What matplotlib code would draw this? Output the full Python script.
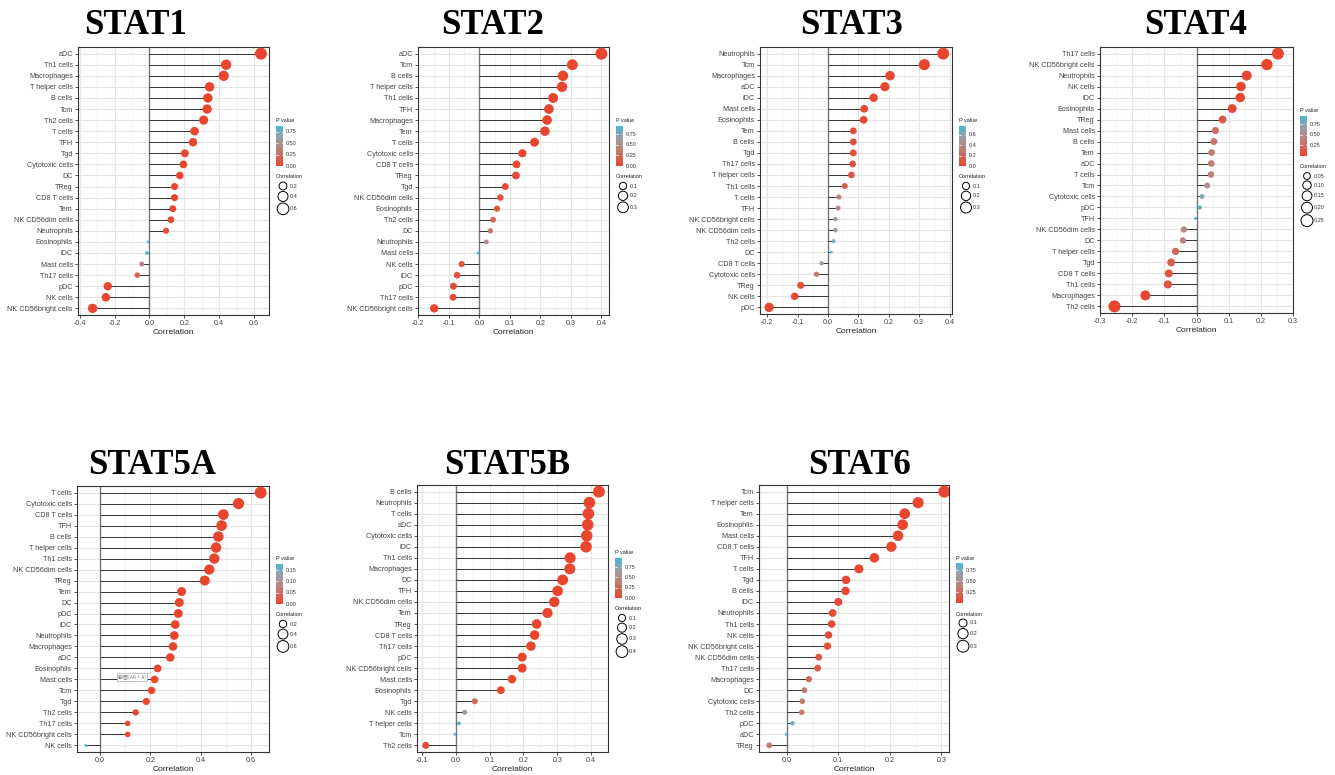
import numpy as np
import matplotlib
matplotlib.use("Agg")
import matplotlib.pyplot as plt
from matplotlib.colors import LinearSegmentedColormap
from matplotlib.ticker import MultipleLocator

W, H = 1335, 775

# ---------------- data (top -> bottom) ----------------
stat1_cells = ["aDC", "Th1 cells", "Macrophages", "T helper cells", "B cells", "Tcm", "Th2 cells",
               "T cells", "TFH", "Tgd", "Cytotoxic cells", "DC", "TReg", "CD8 T cells", "Tem",
               "NK CD56dim cells", "Neutrophils", "Eosinophils", "iDC", "Mast cells", "Th17 cells",
               "pDC", "NK cells", "NK CD56bright cells"]
stat1_r = [0.640, 0.440, 0.426, 0.345, 0.335, 0.331, 0.311, 0.259, 0.250, 0.203, 0.195, 0.174,
           0.144, 0.144, 0.134, 0.123, 0.095, -0.008, -0.015, -0.044, -0.070, -0.239, -0.250, -0.326]
stat1_p = [0, 0, 0, 0, 0, 0, 0, 0, 0, 0, 0, 0.002, 0.008, 0.008, 0.014, 0.025, 0.085,
           0.88, 0.78, 0.42, 0.20, 0, 0, 0]

stat2_cells = ["aDC", "Tcm", "B cells", "T helper cells", "Th1 cells", "TFH", "Macrophages", "Tem",
               "T cells", "Cytotoxic cells", "CD8 T cells", "TReg", "Tgd", "NK CD56dim cells",
               "Eosinophils", "Th2 cells", "DC", "Neutrophils", "Mast cells", "NK cells", "iDC",
               "pDC", "Th17 cells", "NK CD56bright cells"]
stat2_r = [0.400, 0.305, 0.274, 0.271, 0.242, 0.228, 0.222, 0.215, 0.181, 0.141, 0.122, 0.120,
           0.085, 0.069, 0.058, 0.045, 0.036, 0.023, -0.004, -0.058, -0.073, -0.085, -0.086, -0.148]
stat2_p = [0, 0, 0, 0, 0, 0, 0, 0, 0.001, 0.006, 0.015, 0.016, 0.04, 0.07, 0.12, 0.2, 0.32,
           0.5, 0.94, 0.12, 0.07, 0.05, 0.05, 0.002]

stat3_cells = ["Neutrophils", "Tcm", "Macrophages", "aDC", "iDC", "Mast cells", "Eosinophils", "Tem",
               "B cells", "Tgd", "Th17 cells", "T helper cells", "Th1 cells", "T cells", "TFH",
               "NK CD56bright cells", "NK CD56dim cells", "Th2 cells", "DC", "CD8 T cells",
               "Cytotoxic cells", "TReg", "NK cells", "pDC"]
stat3_r = [0.379, 0.317, 0.204, 0.187, 0.150, 0.119, 0.117, 0.083, 0.083, 0.083, 0.081, 0.077,
           0.055, 0.036, 0.033, 0.024, 0.024, 0.018, 0.011, -0.021, -0.038, -0.090, -0.110, -0.194]
stat3_p = [0, 0, 0, 0, 0.004, 0.02, 0.022, 0.06, 0.06, 0.06, 0.07, 0.08, 0.15, 0.35, 0.38,
           0.5, 0.5, 0.62, 0.77, 0.55, 0.3, 0.05, 0.025, 0]

stat4_cells = ["Th17 cells", "NK CD56bright cells", "Neutrophils", "NK cells", "iDC", "Eosinophils",
               "TReg", "Mast cells", "B cells", "Tem", "aDC", "T cells", "Tcm", "Cytotoxic cells",
               "pDC", "TFH", "NK CD56dim cells", "DC", "T helper cells", "Tgd", "CD8 T cells",
               "Th1 cells", "Macrophages", "Th2 cells"]
stat4_r = [0.253, 0.219, 0.156, 0.138, 0.136, 0.111, 0.081, 0.059, 0.054, 0.047, 0.046, 0.045,
           0.033, 0.017, 0.010, -0.003, -0.039, -0.042, -0.065, -0.079, -0.086, -0.089, -0.159, -0.255]
stat4_p = [0.00001, 0.0001, 0.004, 0.01, 0.01, 0.04, 0.14, 0.28, 0.32, 0.37, 0.38, 0.39, 0.5,
           0.72, 0.83, 0.94, 0.46, 0.44, 0.24, 0.16, 0.12, 0.11, 0.003, 0.00001]

stat5a_cells = ["T cells", "Cytotoxic cells", "CD8 T cells", "TFH", "B cells", "T helper cells",
                "Th1 cells", "NK CD56dim cells", "TReg", "Tem", "DC", "pDC", "iDC", "Neutrophils",
                "Macrophages", "aDC", "Eosinophils", "Mast cells", "Tcm", "Tgd", "Th2 cells",
                "Th17 cells", "NK CD56bright cells", "NK cells"]
stat5a_r = [0.638, 0.550, 0.490, 0.483, 0.470, 0.461, 0.454, 0.434, 0.416, 0.324, 0.315, 0.311,
            0.299, 0.295, 0.290, 0.279, 0.229, 0.217, 0.205, 0.184, 0.142, 0.110, 0.110, -0.056]
stat5a_p = [0, 0, 0, 0, 0, 0, 0, 0, 0, 0, 0, 0, 0, 0, 0, 0, 0, 0, 0, 0.0005, 0.002, 0.006,
            0.006, 0.177]

stat5b_cells = ["B cells", "Neutrophils", "T cells", "aDC", "Cytotoxic cells", "iDC", "Th1 cells",
                "Macrophages", "DC", "TFH", "NK CD56dim cells", "Tem", "TReg", "CD8 T cells",
                "Th17 cells", "pDC", "NK CD56bright cells", "Mast cells", "Eosinophils", "Tgd",
                "NK cells", "T helper cells", "Tcm", "Th2 cells"]
stat5b_r = [0.423, 0.395, 0.392, 0.390, 0.387, 0.385, 0.338, 0.337, 0.316, 0.301, 0.291, 0.271,
            0.239, 0.233, 0.222, 0.196, 0.196, 0.166, 0.133, 0.056, 0.026, 0.009, -0.003, -0.089]
stat5b_p = [0, 0, 0, 0, 0, 0, 0, 0, 0, 0, 0, 0, 0, 0, 0, 0, 0, 0.003, 0.015, 0.27, 0.56,
            0.85, 0.97, 0.04]

stat6_cells = ["Tcm", "T helper cells", "Tem", "Eosinophils", "Mast cells", "CD8 T cells", "TFH",
               "T cells", "Tgd", "B cells", "iDC", "Neutrophils", "Th1 cells", "NK cells",
               "NK CD56bright cells", "NK CD56dim cells", "Th17 cells", "Macrophages", "DC",
               "Cytotoxic cells", "Th2 cells", "pDC", "aDC", "TReg"]
stat6_r = [0.306, 0.255, 0.229, 0.225, 0.216, 0.203, 0.170, 0.140, 0.115, 0.114, 0.100, 0.089,
           0.087, 0.081, 0.079, 0.062, 0.060, 0.043, 0.034, 0.030, 0.029, 0.011, -0.001, -0.034]
stat6_p = [0, 0, 0, 0, 0, 0, 0.0002, 0.002, 0.01, 0.01, 0.025, 0.04, 0.045, 0.06, 0.065, 0.13,
           0.14, 0.25, 0.33, 0.36, 0.37, 0.78, 0.92, 0.4]

# ---------------- layout ----------------
# title, title centre (px), axes box (l, t, r, b px), xlim, major, minor, p ticks, size breaks, legend top
panels = [
    ("STAT1", stat1_cells, stat1_r, stat1_p, (135, 25), (78, 47, 269, 315), (-0.41, 0.686), 0.2, 0.1,
     ["0.00", "0.25", "0.50", "0.75"], [0.2, 0.4, 0.6], 121),
    ("STAT2", stat2_cells, stat2_r, stat2_p, (493, 25), (418, 47, 609, 315), (-0.201, 0.425), 0.1, 0.05,
     ["0.00", "0.25", "0.50", "0.75"], [0.1, 0.2, 0.3], 121),
    ("STAT3", stat3_cells, stat3_r, stat3_p, (852, 25), (760, 47, 952, 314), (-0.224, 0.408), 0.1, 0.05,
     ["0.0", "0.2", "0.4", "0.6"], [0.1, 0.2, 0.3], 121),
    ("STAT4", stat4_cells, stat4_r, stat4_p, (1196, 25), (1100, 47, 1293, 313), (-0.3, 0.3), 0.1, 0.05,
     ["0.25", "0.50", "0.75"], [0.05, 0.10, 0.15, 0.20, 0.25], 111),
    ("STAT5A", stat5a_cells, stat5a_r, stat5a_p, (152, 466), (77, 486, 269, 752), (-0.091, 0.671), 0.2, 0.1,
     ["0.00", "0.05", "0.10", "0.15"], [0.2, 0.4, 0.6], 559),
    ("STAT5B", stat5b_cells, stat5b_r, stat5b_p, (507, 466), (417, 485, 608, 752), (-0.115, 0.45), 0.1, 0.05,
     ["0.00", "0.25", "0.50", "0.75"], [0.1, 0.2, 0.3, 0.4], 553),
    ("STAT6", stat6_cells, stat6_r, stat6_p, (859, 466), (759, 485, 949, 752), (-0.054, 0.315), 0.1, 0.05,
     ["0.25", "0.50", "0.75"], [0.1, 0.2, 0.3], 558),
]

cmap = LinearSegmentedColormap.from_list(
    "pval", [(0, "#E8462F"), (0.45, "#B8857D"), (0.7, "#9C9FA6"), (1, "#4BBAD6")])

plt.rcParams["font.family"] = ["Liberation Sans", "DejaVu Sans"]

fig = plt.figure(figsize=(W / 100, H / 100), dpi=100)
fig.patch.set_facecolor("white")


def diam(v, lo, hi):
    # ggplot scale_size style: diameter grows with sqrt of rescaled value
    t = np.clip((np.asarray(v) - lo) / (hi - lo), 0, 1)
    return 2.8 + 9.2 * np.sqrt(t)


overlay = []
for (title, cells, r, p, tpos, box, xlim, major, minor, pticks, sbreaks, ly) in panels:
    n = len(cells)
    r = np.array(r)
    p = np.array(p)
    y = np.arange(n, 0, -1)
    l, t, rr, b = box
    ax = fig.add_axes([l / W, 1 - b / H, (rr - l) / W, (b - t) / H])
    ax.set_xlim(*xlim)
    ax.set_ylim(0.4, n + 0.6)
    ax.xaxis.set_major_locator(MultipleLocator(major))
    ax.xaxis.set_minor_locator(MultipleLocator(minor))
    ax.set_yticks(y)
    ax.set_yticklabels(cells)
    ax.set_axisbelow(True)
    ax.grid(which="major", color="#E4E4E4", lw=0.8)
    ax.grid(which="minor", axis="x", color="#F0F0F0", lw=0.5)
    ax.tick_params(which="major", length=2.2, width=0.6, color="#333333", labelsize=5.2,
                   labelcolor="#444444", pad=1.5)
    ax.tick_params(which="minor", length=0)
    ax.xaxis.set_major_formatter(matplotlib.ticker.FormatStrFormatter("%.1f"))
    for s in ax.spines.values():
        s.set_color("#333333")
        s.set_linewidth(0.8)
    ax.set_xlabel("Correlation", fontsize=6, labelpad=1.5, color="#222222")

    ax.axvline(0, color="#777777", lw=1.0, zorder=1)
    ax.hlines(y, 0, r, color="#333333", lw=0.7, zorder=2)
    absr = np.abs(r)
    lo, hi = absr.min(), absr.max()
    d = diam(absr, lo, hi)
    ax.scatter(r, y, s=(d * 0.72) ** 2, c=p, cmap=cmap, vmin=p.min(), vmax=p.max(),
               linewidths=0, zorder=3)

    overlay.append((title, tpos, rr, ly, p.min(), p.max(), pticks, sbreaks, lo, hi))

# overlay in pixel coordinates for titles and legends
ov = fig.add_axes([0, 0, 1, 1])
ov.set_axis_off()
for (title, tpos, rr, ly, pmin, pmax, pticks, sbreaks, lo, hi) in overlay:
    ov.text(tpos[0], tpos[1], title, fontsize=25, fontweight="bold", family="Liberation Serif",
            ha="center", va="center")
    x0 = rr + 7
    ov.text(x0, ly, "P value", fontsize=4, ha="left", va="center", color="#222222")
    top, bot = ly + 5, ly + 45
    grad = np.linspace(0, 1, 100).reshape(-1, 1)
    ov.imshow(grad, extent=[x0, x0 + 7, bot, top], origin="lower", aspect="auto", cmap=cmap,
              interpolation="bilinear")
    for lab in pticks:
        v = float(lab)
        yy = bot - (v - pmin) / (pmax - pmin) * (bot - top)
        ov.plot([x0, x0 + 1.5], [yy, yy], color="white", lw=0.5)
        ov.plot([x0 + 5.5, x0 + 7], [yy, yy], color="white", lw=0.5)
        ov.text(x0 + 10, yy, lab, fontsize=4, ha="left", va="center", color="#333333")
    cy = ly + 56
    ov.text(x0, cy, "Correlation", fontsize=4, ha="left", va="center", color="#222222")
    ds = diam(sbreaks, lo, hi)
    yy = cy + 9
    prev = None
    for v, dd in zip(sbreaks, ds):
        if prev is not None:
            yy += max(9, (prev + dd) / 2 + 1.5)
        ov.scatter([x0 + 7], [yy], s=(dd * 0.72) ** 2, facecolors="none", edgecolors="black",
                   linewidths=0.7)
        ov.text(x0 + 14, yy, "%g" % v if len(sbreaks) < 5 else "%.2f" % v, fontsize=4,
                ha="left", va="center", color="#333333")
        prev = dd

# screenshot tooltip left in the original picture
ov.text(132, 677, "截图(Alt + A)", fontsize=3.6, ha="center", va="center", color="#777777",
        family=["Noto Sans CJK SC", "DejaVu Sans"],
        bbox=dict(boxstyle="square,pad=0.25", fc="white", ec="#AAAAAA", lw=0.5))

ov.set_xlim(0, W)
ov.set_ylim(H, 0)

fig.savefig("out.png", dpi=100, facecolor="white")
